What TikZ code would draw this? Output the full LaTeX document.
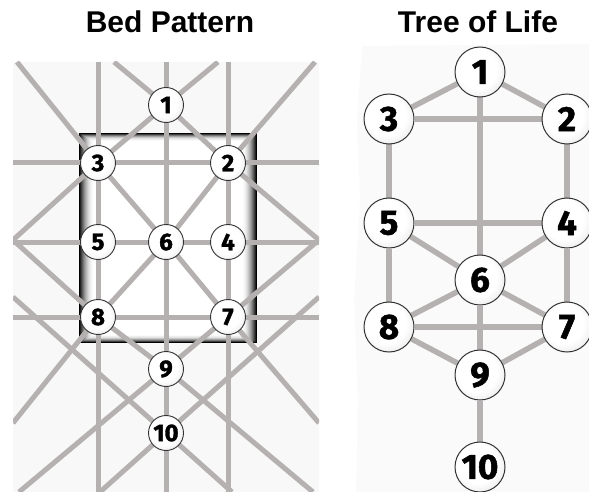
\documentclass[tikz,border=0pt]{standalone}
\usepackage{fontspec}
\usetikzlibrary{backgrounds}
\newfontfamily\titlefont{Liberation Sans}
\newfontfamily\ballfont{Fira Sans}[BoldFeatures={FakeBold=1.5}]
\definecolor{panelbg}{HTML}{F8F8F8}
\definecolor{treebg}{HTML}{FAFAFA}
\definecolor{pathgray}{HTML}{B6B1B1}
\pgfdeclareradialshading{orb}{\pgfpoint{-5bp}{5bp}}{color(0bp)=(white); color(20bp)=(white); color(36bp)=(black!12); color(46bp)=(black!40); color(58bp)=(black!65)}

\begin{document}
\begin{tikzpicture}[x=1pt, y=-1pt,
  bedball/.style={circle, draw=black!80, line width=0.9pt, shading=orb, minimum size=35pt, inner sep=0pt, font=\ballfont\bfseries\fontsize{24}{24}\selectfont},
  treeball/.style={bedball, minimum size=50pt, line width=1pt, font=\ballfont\bfseries\fontsize{35}{35}\selectfont},
  bedpath/.style={draw=pathgray, line width=5pt, line join=round},
  treepath/.style={draw=pathgray, line width=5.5pt},
  headline/.style={font=\titlefont\bfseries\fontsize{30}{36}\selectfont, anchor=base}]
  \useasboundingbox (0,0) rectangle (589,492);

  % Titles
  \node[headline] (bedtitle) at (170,33) {Bed Pattern};
  \node[headline] (treetitle) at (478,33) {Tree of Life};

  % Bed pattern stations
  \node[bedball] (b1) at (166,105) {1};
  \node[bedball] (b2) at (228,163) {2};
  \node[bedball] (b3) at (98,163) {3};
  \node[bedball] (b4) at (228,242) {4};
  \node[bedball] (b5) at (98,242) {5};
  \node[bedball] (b6) at (166,242) {6};
  \node[bedball] (b7) at (228,317) {7};
  \node[bedball] (b8) at (98,317) {8};
  \node[bedball] (b9) at (166,369) {9};
  \node[bedball] (b10) at (166,433) {10};

  % Tree of life spheres
  \node[treeball] (t1) at (480,72) {1};
  \node[treeball] (t2) at (567,119) {2};
  \node[treeball] (t3) at (389,119) {3};
  \node[treeball] (t4) at (567,223) {4};
  \node[treeball] (t5) at (389,223) {5};
  \node[treeball] (t6) at (480,280) {6};
  \node[treeball] (t7) at (567,327) {7};
  \node[treeball] (t8) at (389,327) {8};
  \node[treeball] (t9) at (480,375) {9};
  \node[treeball] (t10) at (480,467) {10};

  \begin{scope}[on background layer]
    \fill[panelbg] (13,62) rectangle (319,492);
    \fill[treebg] (362,46) -- (589,44) -- (589,492) -- (356,492) -- (358,400) -- (354,300) -- (360,200) -- (357,120) -- cycle;

    % the bed, dark rim fading inwards
    \foreach \i in {0,...,15} {
      \pgfmathsetmacro\rim{100*(1-\i/15)^2}
      \fill[black!\rim!white] (79+\i,133+0.55*\i) rectangle (257-\i,343-0.55*\i);
    }

    % points where the paths leave the panel
    \coordinate (topA) at (17,62);  \coordinate (endA) at (319,423);
    \coordinate (topB) at (315,62); \coordinate (endB) at (13,423);
    \coordinate (topC) at (218,62); \coordinate (midL) at (13,240);
    \coordinate (topD) at (114,62); \coordinate (midR) at (319,240);
    \coordinate (lowL) at (13,297); \coordinate (lowR) at (319,297);
    \coordinate (botE) at (100,492); \coordinate (botF) at (232,492);
    \coordinate (botG) at (19,492);  \coordinate (botH) at (313,492);

    \begin{scope}
      \clip (13,62) rectangle (319,492);
      \draw[bedpath] (b3.center |- topA) -- (b3.center |- botE);
      \draw[bedpath] (b1.center |- topA) -- (b1.center |- botE);
      \draw[bedpath] (b2.center |- topA) -- (b2.center |- botE);
      \draw[bedpath] (midL |- b3.center) -- (midR |- b2.center);
      \draw[bedpath] (midL |- b5.center) -- (midR |- b4.center);
      \draw[bedpath] (midL |- b8.center) -- (midR |- b7.center);
      \draw[bedpath] (topA) -- (b3.center) -- (b6.center) -- (b7.center) -- (endA);
      \draw[bedpath] (topB) -- (b2.center) -- (b6.center) -- (b8.center) -- (endB);
      \draw[bedpath] (topC) -- (b1.center) -- (b3.center) -- (midL);
      \draw[bedpath] (topD) -- (b1.center) -- (b2.center) -- (midR);
      \draw[bedpath] (midR) -- (b7.center) -- (b9.center) -- (botG);
      \draw[bedpath] (midL) -- (b8.center) -- (b9.center) -- (botH);
      \draw[bedpath] (lowR) -- (b10.center) -- (botE);
      \draw[bedpath] (lowL) -- (b10.center) -- (botF);
    \end{scope}

    % tree paths
    \draw[treepath] (t1) -- (t3);
    \draw[treepath] (t1) -- (t2);
    \draw[treepath] (t3) -- (t2);
    \draw[treepath] (t1) -- (t6) -- (t9) -- (t10);
    \draw[treepath] (t3) -- (t5) -- (t8);
    \draw[treepath] (t2) -- (t4) -- (t7);
    \draw[treepath] (t5) -- (t4);
    \draw[treepath] (t5) -- (t6) -- (t4);
    \draw[treepath] (t8) -- (t6) -- (t7);
    \draw[treepath] (t8) -- (t7);
    \draw[treepath] (t8) -- (t9) -- (t7);
  \end{scope}
\end{tikzpicture}
\end{document}
